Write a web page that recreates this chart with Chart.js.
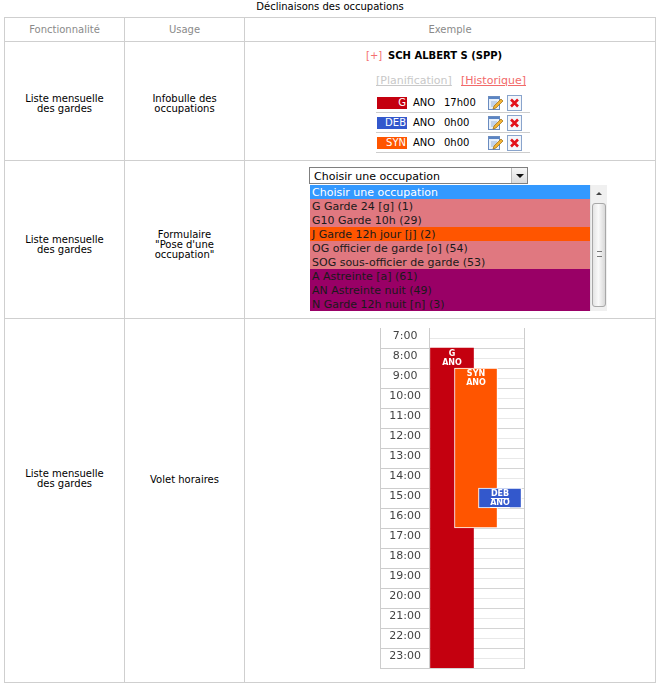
<!DOCTYPE html>
<html lang="fr">
<head>
<meta charset="utf-8">
<title>Déclinaisons des occupations</title>
<script src="https://cdn.jsdelivr.net/npm/chart.js@4/dist/chart.umd.min.js"></script>
<style>
body { margin:0; width:660px; height:688px; position:relative; overflow:hidden; background:#fff;
       font-family:"DejaVu Sans", sans-serif; font-size:10px; color:#000; }
.abs { position:absolute; white-space:nowrap; }
#titre { left:0; top:1px; width:660px; text-align:center; line-height:12px; }
table { position:absolute; left:4px; top:17px; width:652px; border-collapse:collapse; table-layout:fixed; }
td, th { border:1px solid #cfcfcf; padding:0; text-align:center; vertical-align:middle; line-height:10px; font-weight:normal; }
th { color:#8a8a8a; height:23px; }
.lien { text-decoration:underline; font-size:11px; }
.boite { position:absolute; left:377px; width:30px; height:12px; line-height:12px; color:#fff; text-align:right; padding-right:1px; box-sizing:border-box; }
.sep { position:absolute; left:376px; width:154px; height:1px; background:#cdcdcd; }
#select { left:309px; top:167px; width:219px; height:17px; box-sizing:border-box; border:1px solid #7f7f7f;
          font-size:11px; line-height:17px; padding-left:4px; background:#fff; }
#bouton { position:absolute; right:0; top:0; width:16px; height:15px; box-sizing:border-box; border-left:1px solid #bbb;
          background:linear-gradient(#f6f6f6,#dcdcdc); }
#bouton:after { content:""; position:absolute; left:4px; top:6px; border-left:4px solid transparent; border-right:4px solid transparent; border-top:4px solid #111; }
#liste { left:310px; top:185px; width:297px; height:126px; overflow:hidden; }
.item { height:14px; line-height:15px; font-size:11px; padding-left:2px; color:#1a1a1a; }
#ascenseur { position:absolute; left:280px; top:0; width:17px; height:126px; background:#f0f0f0; border-left:1px solid #e2e2e2; box-sizing:border-box; }
#fleche { position:absolute; left:5px; top:7px; width:0; height:0; border-left:3px solid transparent; border-right:3px solid transparent; border-bottom:3px solid #444; }
#curseur { position:absolute; left:1px; top:18px; width:14px; height:104px; box-sizing:border-box; border:1px solid #a8a8a8; border-radius:3px;
           background:linear-gradient(90deg,#e4e4e4,#fafafa 45%,#d8d8d8); }
#curseur:after { content:""; position:absolute; left:4px; top:47px; width:5px; height:4px; border-top:1px solid #777; border-bottom:1px solid #777; }
#cadre { left:380px; top:328px; width:143px; height:341px; border-left:1px solid #cdcdcd; border-right:1px solid #cdcdcd; }
</style>
</head>
<body>
<div id="titre" class="abs">Déclinaisons des occupations</div>

<table>
  <colgroup><col style="width:120px"><col style="width:120px"><col></colgroup>
  <tr><th>Fonctionnalité</th><th>Usage</th><th>Exemple</th></tr>
  <tr style="height:119px"><td style="padding-top:6px">Liste mensuelle<br>des gardes</td><td style="padding-top:6px">Infobulle des<br>occupations</td><td></td></tr>
  <tr style="height:158px"><td style="padding-top:10px">Liste mensuelle<br>des gardes</td><td style="padding-top:10px">Formulaire<br>"Pose d'une<br>occupation"</td><td></td></tr>
  <tr style="height:364px"><td style="padding-bottom:44px">Liste mensuelle<br>des gardes</td><td style="padding-bottom:42px">Volet horaires</td><td></td></tr>
</table>

<div class="abs" style="left:366px;top:50px;line-height:12px;color:#f47070">[+]</div>
<div class="abs" style="left:388px;top:50px;line-height:12px;font-weight:bold">SCH ALBERT S (SPP)</div>
<div class="abs lien" style="left:376px;top:74px;line-height:13px;color:#c8c8c8">[Planification]</div>
<div class="abs lien" style="left:461px;top:74px;line-height:13px;color:#f26a6a">[Historique]</div>
<div id="infobulle"></div>

<div id="select" class="abs">Choisir une occupation<div id="bouton"></div></div>
<div id="liste" class="abs"><div id="ascenseur"><div id="fleche"></div><div id="curseur"></div></div></div>

<div id="cadre" class="abs"><canvas id="volet" width="143" height="341"></canvas></div>

<script>
// infobulle des occupations
const codesInfobulle = ['G', 'DEB', 'SYN'];
const statutsInfobulle = ['ANO', 'ANO', 'ANO'];
const durees = ['17h00', '0h00', '0h00'];

// formulaire "pose d'une occupation"
const occupations = [
    'Choisir une occupation',
    'G Garde 24 [g] (1)',
    'G10 Garde 10h (29)',
    'J Garde 12h jour [j] (2)',
    'OG officier de garde [o] (54)',
    'SOG sous-officier de garde (53)',
    'A Astreinte [a] (61)',
    'AN Astreinte nuit (49)',
    'N Garde 12h nuit [n] (3)'
];

// volet horaires
const heures = ['7:00', '8:00', '9:00', '10:00', '11:00', '12:00', '13:00', '14:00', '15:00',
                '16:00', '17:00', '18:00', '19:00', '20:00', '21:00', '22:00', '23:00'];
const codes = ['G', 'SYN', 'DEB'];
const statuts = ['ANO', 'ANO', 'ANO'];
const debuts = [8, 9, 15];
const fins = [24, 17, 16];

const couleurCode = { G: '#c4000f', SYN: '#ff5500', DEB: '#3358cc' };
const fondsListe = ['#3399ff', '#e07880', '#e07880', '#ff5500', '#e07880', '#e07880', '#990066', '#990066', '#990066'];

const iconeEdit = '<svg width="16" height="16" viewBox="0 0 16 16"><rect x="1.5" y="1.5" width="11" height="13" fill="#e8f0fa" stroke="#6a8cc0"/>' +
    '<rect x="2" y="2" width="10" height="2" fill="#5b85c4"/><path d="M4 7h6M4 9h5M4 11h4" stroke="#9db4d8"/>' +
    '<path d="M6 14l1-3 7-7 2 2-7 7z" fill="#f2b233" stroke="#9a6a10" stroke-width="0.7"/></svg>';
const iconeSuppr = '<svg width="15" height="16" viewBox="0 0 15 16"><rect x="0.5" y="0.5" width="14" height="15" fill="#f3f6fb" stroke="#89a4cc"/>' +
    '<path d="M4 4.5l7 7M11 4.5l-7 7" stroke="#e3101a" stroke-width="2.6"/></svg>';

let html = '';
codesInfobulle.forEach((c, i) => {
    const y = 97 + i * 20;
    html += '<div class="boite" style="top:' + y + 'px;background:' + couleurCode[c] + '">' + c + '</div>';
    html += '<div class="abs" style="left:413px;top:' + y + 'px;line-height:12px">' + statutsInfobulle[i] + '</div>';
    html += '<div class="abs" style="left:444px;top:' + y + 'px;line-height:12px">' + durees[i] + '</div>';
    html += '<div class="abs" style="left:487px;top:' + (y - 2) + 'px">' + iconeEdit + '</div>';
    html += '<div class="abs" style="left:507px;top:' + (y - 2) + 'px">' + iconeSuppr + '</div>';
    html += '<div class="sep" style="top:' + (y + 15) + 'px"></div>';
});
document.getElementById('infobulle').innerHTML = html;

const liste = document.getElementById('liste');
occupations.forEach((o, i) => {
    const d = document.createElement('div');
    d.className = 'item';
    d.textContent = o;
    d.style.background = fondsListe[i];
    if (i === 0) d.style.color = '#fff';
    liste.insertBefore(d, document.getElementById('ascenseur'));
});

const etiquettes = {
    id: 'etiquettes',
    afterDatasetsDraw(chart) {
        const ctx = chart.ctx;
        const meta = chart.getDatasetMeta(0);
        ctx.save();
        ctx.fillStyle = '#fff';
        ctx.strokeStyle = '#fff';
        ctx.lineWidth = 1;
        ctx.font = 'bold 8px "DejaVu Sans"';
        ctx.textAlign = 'center';
        ctx.textBaseline = 'middle';
        meta.data.forEach((bar, i) => {
            const haut = Math.min(bar.y, bar.base);
            [codes[i], statuts[i]].forEach((t, j) => {
                const y = haut + 6 + j * 9;
                ctx.fillText(t, bar.x, y);
                if (codes[i] === 'DEB') {
                    const w = ctx.measureText(t).width;
                    ctx.beginPath();
                    ctx.moveTo(bar.x - w / 2, Math.round(y + 4) + 0.5);
                    ctx.lineTo(bar.x + w / 2, Math.round(y + 4) + 0.5);
                    ctx.stroke();
                }
            });
        });
        ctx.restore();
    }
};

const estHeure = v => Number.isInteger(v);

new Chart(document.getElementById('volet'), {
    type: 'bar',
    data: {
        labels: codes,
        datasets: [{
            data: codes.map((c, i) => ({ x: i + 1, y: [debuts[i], fins[i]] })),
            backgroundColor: codes.map(c => couleurCode[c]),
            borderColor: '#fff',
            borderWidth: codes.map(c => c === 'G' ? 0 : 1),
            borderSkipped: false,
            barThickness: 43
        }]
    },
    options: {
        responsive: false,
        animation: false,
        layout: { padding: { top: 0, bottom: 1, left: 0, right: 0 } },
        plugins: { legend: { display: false }, tooltip: { enabled: false } },
        scales: {
            x: { type: 'linear', display: false, offset: false, min: 0.042, max: 4.0 },
            y: {
                type: 'linear',
                reverse: true,
                min: 7,
                max: 24,
                afterBuildTicks: scale => {
                    const t = [];
                    for (let v = 7; v <= 24; v += 0.5) t.push({ value: v });
                    scale.ticks = t;
                },
                afterFit: scale => { scale.width = 48; },
                border: { display: true, color: '#cdcdcd' },
                grid: {
                    color: c => estHeure(c.tick.value) ? (c.tick.value === 7 ? 'rgba(0,0,0,0)' : '#d4d4d4') : '#e8e8e8',
                    tickColor: c => estHeure(c.tick.value) && c.tick.value !== 7 ? '#cdcdcd' : 'rgba(0,0,0,0)',
                    tickLength: 48,
                    drawTicks: true
                },
                ticks: {
                    autoSkip: false,
                    crossAlign: 'center',
                    padding: -40,
                    labelOffset: -2,
                    color: '#444',
                    font: { family: '"DejaVu Sans"', size: 11 },
                    callback: v => estHeure(v) ? '' : heures[Math.floor(v) - 7]
                }
            }
        }
    },
    plugins: [etiquettes]
});
</script>
</body>
</html>
